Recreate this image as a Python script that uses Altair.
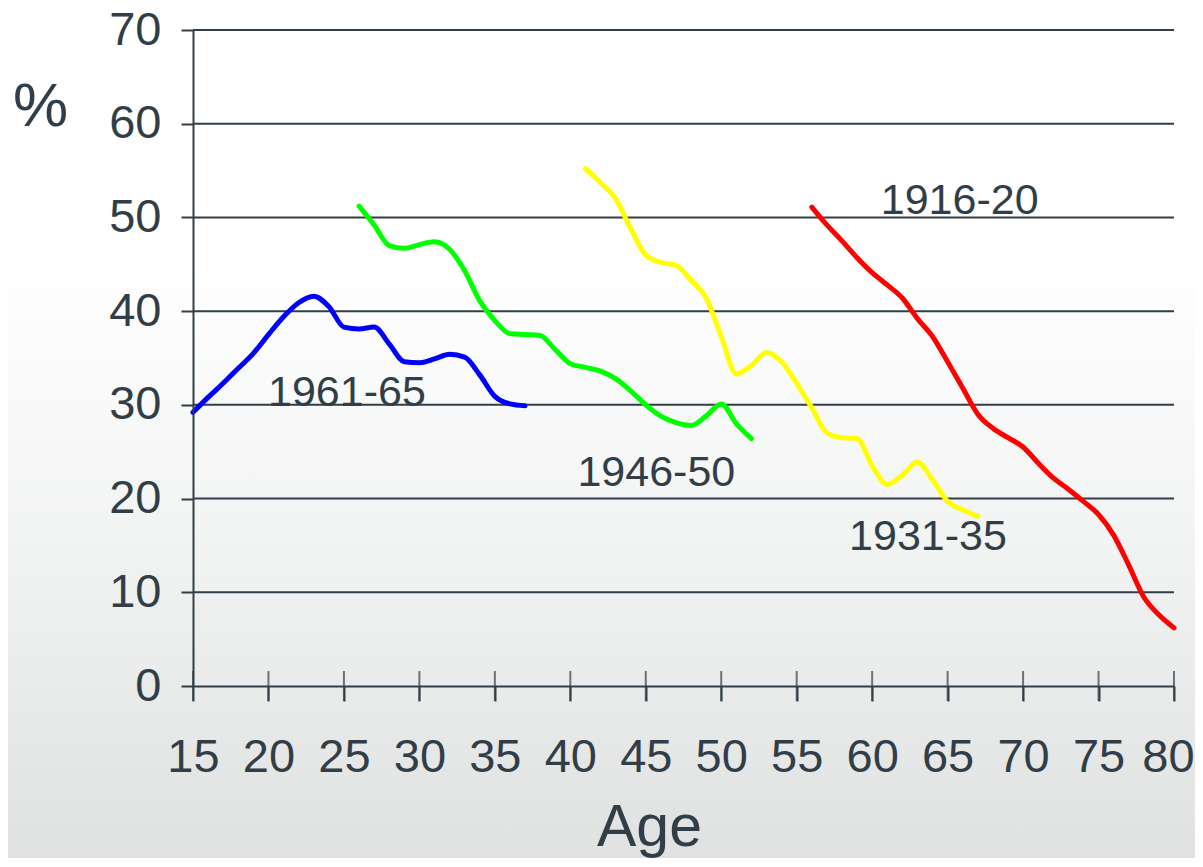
import altair as alt
import pandas as pd

# ---- data ----
ages_1961 = list(range(15, 38))
vals_1961 = [29.2, 30.8, 32.3, 33.9, 35.5, 37.5, 39.4, 40.9, 41.6, 40.5, 38.3, 38.1,
             38.3, 36.5, 34.6, 34.5, 34.9, 35.4, 35.1, 33.2, 30.9, 30.1, 29.9]

ages_1946 = list(range(26, 53))
vals_1946 = [51.2, 49.2, 47.0, 46.7, 47.1, 47.4, 46.6, 44.3, 41.1, 39.0, 37.6, 37.5,
             37.4, 35.9, 34.4, 34.0, 33.6, 32.8, 31.5, 30.0, 28.8, 28.1, 27.8, 28.8,
             30.1, 28.0, 26.4]

ages_1931 = list(range(41, 68))
vals_1931 = [55.2, 53.7, 52.0, 48.8, 46.0, 45.2, 44.9, 43.3, 41.4, 37.3, 33.3, 34.2,
             35.6, 34.6, 32.3, 29.7, 27.0, 26.5, 26.4, 23.5, 21.5, 22.5, 23.9, 22.0,
             19.7, 18.8, 18.1]

ages_1916 = list(range(56, 81))
vals_1916 = [51.1, 49.2, 47.5, 45.7, 44.1, 42.8, 41.4, 39.2, 37.3, 34.6, 31.8, 29.0,
             27.5, 26.5, 25.5, 23.8, 22.2, 21.0, 19.7, 18.3, 16.1, 12.9, 9.5, 7.6, 6.2]

cohorts = ["1961-65", "1946-50", "1931-35", "1916-20"]
cohort_colors = ["#0000FF", "#00FF00", "#FFFF00", "#FF0000"]

label_text = ["1961-65", "1946-50", "1931-35", "1916-20"]
label_age = [25.2, 45.7, 63.7, 65.8]
label_val = [31.3, 22.7, 15.9, 51.8]

x_ticks = list(range(15, 81, 5))
y_ticks = list(range(0, 71, 10))
grid_vals = list(range(10, 71, 10))

# ---- tables ----
rows = []
for name, ages, vals in zip(cohorts,
                            [ages_1961, ages_1946, ages_1931, ages_1916],
                            [vals_1961, vals_1946, vals_1931, vals_1916]):
    for a, v in zip(ages, vals):
        rows.append({"cohort": name, "age": a, "value": v})
lines_df = pd.DataFrame(rows)
labels_df = pd.DataFrame({"label": label_text, "age": label_age, "value": label_val})
ticks_df = pd.DataFrame({"age": x_ticks, "value": [0] * len(x_ticks)})
grid_df = pd.DataFrame({"value": grid_vals})

W, H = 981, 656
PAD = {"left": 185, "top": 22, "right": 21, "bottom": 172}
TXT = "#323e47"
AXIS_FONT = "Liberation Sans, Arial"
FONT = "Liberation Sans, Arial"

xscale = alt.Scale(domain=[15, 80], nice=False, zero=False)
yscale = alt.Scale(domain=[0, 70], nice=False)

x_axis = alt.Axis(values=x_ticks, title="Age", grid=False, zindex=1,
                  domainColor=TXT, domainWidth=2, tickColor=TXT, tickWidth=2, tickSize=15,
                  labelFont=AXIS_FONT, labelFontSize=47, labelColor=TXT, labelPadding=33,
                  labelFlush=False,
                  labelOffset={"condition": {"test": "datum.value == 80", "value": -6},
                               "value": 0},
                  titleFont=FONT, titleFontSize=59, titleFontWeight="normal", titleColor=TXT,
                  titleX=456, titleY=159, titleAlign="center", titleBaseline="alphabetic")
y_axis = alt.Axis(values=y_ticks, title="%", grid=False, zindex=1,
                  domainColor=TXT, domainWidth=2, tickColor=TXT, tickWidth=2, tickSize=12,
                  labelFont=AXIS_FONT, labelFontSize=47, labelColor=TXT, labelPadding=20,
                  labelFlush=False,
                  titleFont=FONT, titleFontSize=62, titleFontWeight="normal", titleColor=TXT,
                  titleAngle=0, titleX=-153, titleY=95, titleAlign="center",
                  titleBaseline="alphabetic")

bg = alt.Chart(grid_df).mark_rect(
    color=alt.LinearGradient(
        gradient="linear", x1=0, x2=0, y1=0, y2=1,
        stops=[alt.GradientStop(color="#ffffff", offset=0),
               alt.GradientStop(color="#ffffff", offset=0.3),
               alt.GradientStop(color="#f3f4f4", offset=0.6),
               alt.GradientStop(color="#dfe1e1", offset=1)]),
).encode(
    x=alt.value(-PAD["left"] - 10), x2=alt.value(W + PAD["right"] + 10),
    y=alt.value(-PAD["top"] - 10), y2=alt.value(H + PAD["bottom"] + 10),
)

grid = alt.Chart(grid_df).mark_rule(color=TXT, strokeWidth=2).encode(
    y=alt.Y("value:Q", scale=yscale, axis=y_axis)
)

ticks = alt.Chart(ticks_df).mark_tick(color=TXT, thickness=2, size=30, orient="vertical").encode(
    x=alt.X("age:Q", scale=xscale, axis=x_axis),
    y=alt.Y("value:Q", scale=yscale),
)

lines = alt.Chart(lines_df).mark_line(strokeWidth=5, interpolate="monotone",
                                      strokeCap="round", strokeJoin="round").encode(
    x=alt.X("age:Q", scale=xscale),
    y=alt.Y("value:Q", scale=yscale),
    color=alt.Color("cohort:N", scale=alt.Scale(domain=cohorts, range=cohort_colors),
                    legend=None),
    order="age:Q",
)

texts = alt.Chart(labels_df).mark_text(font=FONT, fontSize=43, color=TXT,
                                       align="center", baseline="middle").encode(
    x=alt.X("age:Q", scale=xscale),
    y=alt.Y("value:Q", scale=yscale),
    text="label:N",
)

chart = alt.layer(bg, grid, ticks, lines, texts).properties(
    width=W, height=H, padding=PAD, autosize=alt.AutoSizeParams(type="none"),
).configure_view(stroke=None).configure(background="#ffffff")

chart.save("out.html", embed_options={"renderer": "svg", "actions": False})
